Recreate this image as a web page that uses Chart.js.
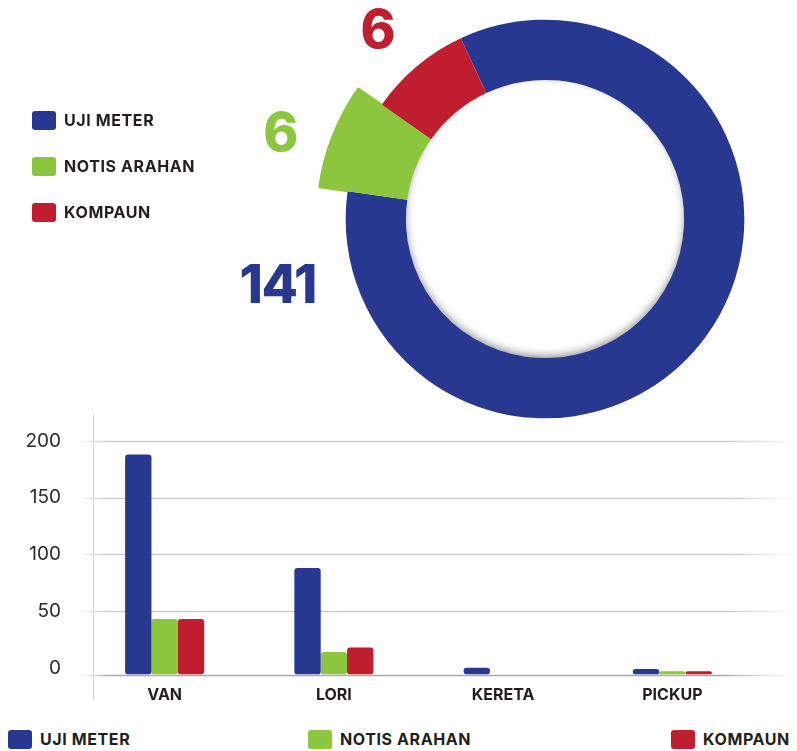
<!DOCTYPE html>
<html>
<head>
<meta charset="utf-8">
<script src="https://cdn.jsdelivr.net/npm/chart.js@4.4.1/dist/chart.umd.min.js"></script>
<style>
  body { margin: 0; width: 797px; height: 751px; overflow: hidden; background: #fff; position: relative; }
  #donutBox { position: absolute; left: 0; top: 0; width: 797px; height: 438px; }
  #barBox { position: absolute; left: 0; top: 400px; width: 797px; height: 305px; }
  .legend { position: absolute; display: flex; }
  #donutLegend { left: 32px; top: 111px; flex-direction: column; gap: 27px; }
  #barLegend { left: 8px; top: 730px; }
  #barLegend .item:nth-child(1) { width: 300px; }
  #barLegend .item:nth-child(2) { width: 363px; }
  .item { display: flex; align-items: center; font: 700 16px Inter, sans-serif; letter-spacing: 0.6px; line-height: 19px; color: #231f20; }
  .item .box { width: 24px; height: 19px; border-radius: 3px; margin-right: 8px; flex: none; }
</style>
</head>
<body>
<div id="donutBox"><canvas id="donut"></canvas></div>
<div id="donutLegend" class="legend"></div>
<div id="barBox"><canvas id="bars"></canvas></div>
<div id="barLegend" class="legend"></div>
<script>
const seriesNames = ["UJI METER", "NOTIS ARAHAN", "KOMPAUN"];
const seriesColors = ["#283890", "#8cc63f", "#bf1e2e"];

// numbers printed next to the ring
const donutTotals = [141, 6, 6];
// slice sizes as drawn in the picture (the ring is not proportional to the totals)
const donutArc = [303, 27, 30];

const barCategories = ["VAN", "LORI", "KERETA", "PICKUP"];
const ujiMeter = [188, 88, 0, -1];
const notisArahan = [43, 14, null, -3];
const kompaun = [43, 18, null, -3];
const yMin = -6;
const yMax = 200;
const yStep = 50;

const donutLabels = {
  id: "donutLabels",
  afterDraw(chart, args, opts) {
    const arc = chart.getDatasetMeta(1).data[0];
    const ctx = chart.ctx;
    ctx.save();
    ctx.font = opts.font;
    ctx.letterSpacing = opts.letterSpacing;
    ctx.textAlign = "center";
    ctx.textBaseline = "alphabetic";
    donutTotals.forEach((v, i) => {
      const spot = opts.spots[i];
      const a = spot.angle * Math.PI / 180;
      const px = arc.x + Math.sin(a) * spot.dist;
      const py = arc.y - Math.cos(a) * spot.dist;
      const m = ctx.measureText(String(v));
      ctx.fillStyle = seriesColors[i];
      ctx.fillText(String(v), px, py + (m.actualBoundingBoxAscent - m.actualBoundingBoxDescent) / 2);
    });
    ctx.restore();
  }
};

const holeShadow = {
  id: "holeShadow",
  afterDatasetsDraw(chart) {
    const arc = chart.getDatasetMeta(1).data[0];
    const ctx = chart.ctx;
    const r = arc.innerRadius;
    ctx.save();
    ctx.beginPath();
    ctx.arc(arc.x, arc.y, r, 0, Math.PI * 2);
    ctx.clip();
    ctx.beginPath();
    ctx.arc(arc.x, arc.y, r + 21, 0, Math.PI * 2);
    ctx.lineWidth = 40;
    ctx.strokeStyle = "#000";
    ctx.shadowColor = "rgba(0,0,0,0.45)";
    ctx.shadowBlur = 8;
    ctx.shadowOffsetY = -3;
    ctx.stroke();
    ctx.restore();
  }
};

const donut = new Chart(document.getElementById("donut"), {
  type: "doughnut",
  data: {
    labels: seriesNames,
    datasets: [
      {
        data: donutArc,
        backgroundColor: ["rgba(0,0,0,0)", seriesColors[1], "rgba(0,0,0,0)"],
        borderColor: ["rgba(0,0,0,0)", seriesColors[1], "rgba(0,0,0,0)"],
        borderWidth: [0, 2, 0],
        weight: 29,
      },
      {
        data: donutArc,
        backgroundColor: seriesColors,
        borderWidth: 0,
        weight: 61,
      },
    ],
  },
  options: {
    responsive: true,
    maintainAspectRatio: false,
    animation: false,
    events: [],
    rotation: -25,
    radius: 228,
    cutout: "61%",
    layout: { padding: { left: 293 } },
    plugins: {
      legend: { display: false },
      tooltip: { enabled: false },
      donutLabels: {
        font: "800 53px Inter, sans-serif",
        letterSpacing: "-1.5px",
        spots: [
          { angle: 256.4, dist: 275 },
          { angle: -71.8, dist: 279 },
          { angle: -41.3, dist: 254 },
        ],
      },
    },
  },
  plugins: [holeShadow, donutLabels],
});

const softGrid = {
  id: "softGrid",
  beforeDatasetsDraw(chart, args, o) {
    const { ctx, chartArea: a, scales: { y } } = chart;
    const x0 = a.left - o.extendLeft;
    const x1 = a.right + o.extendRight;
    const line = (py, color, w) => {
      const g = ctx.createLinearGradient(x0, 0, x1, 0);
      g.addColorStop(0, "rgba(200,200,200,0)");
      g.addColorStop(0.04, color);
      g.addColorStop(0.9, color);
      g.addColorStop(1, "rgba(200,200,200,0)");
      ctx.strokeStyle = g;
      ctx.lineWidth = w;
      ctx.beginPath();
      ctx.moveTo(x0, py);
      ctx.lineTo(x1, py);
      ctx.stroke();
    };
    ctx.save();
    y.ticks.filter(t => t.value > 0).forEach(t => line(Math.round(y.getPixelForValue(t.value)) + 0.5, o.gridColor, 1.5));
    line(Math.round(a.bottom) + 0.5, o.baseColor, 1.5);
    const rx = Math.round(a.left + o.ruleInset) + 0.5;
    ctx.strokeStyle = o.ruleColor;
    ctx.lineWidth = 1;
    ctx.beginPath();
    ctx.moveTo(rx, a.top - o.ruleAbove);
    ctx.lineTo(rx, a.bottom + o.ruleBelow);
    ctx.stroke();
    ctx.restore();
  }
};

const barSet = (label, data, color) => ({
  label,
  data,
  backgroundColor: color,
  borderWidth: 0,
  borderRadius: 3,
  borderSkipped: false,
  base: yMin,
  categoryPercentage: 0.467,
  barPercentage: 1,
});

const bars = new Chart(document.getElementById("bars"), {
  type: "bar",
  data: {
    labels: barCategories,
    datasets: [
      barSet(seriesNames[0], ujiMeter, seriesColors[0]),
      barSet(seriesNames[1], notisArahan, seriesColors[1]),
      barSet(seriesNames[2], kompaun, seriesColors[2]),
    ],
  },
  options: {
    responsive: true,
    maintainAspectRatio: false,
    animation: false,
    events: [],
    layout: { padding: { top: 41, right: 40, left: 0, bottom: 0 } },
    scales: {
      x: {
        grid: { display: false, drawTicks: false },
        border: { display: false },
        ticks: { color: "#231f20", font: { family: "Inter", size: 16, weight: "700" }, padding: 11, maxRotation: 0 },
        afterFit: (s) => { s.height = 30; },
      },
      y: {
        min: yMin,
        max: yMax,
        grid: { display: false, drawTicks: false },
        border: { display: false },
        ticks: { stepSize: yStep, includeBounds: false, color: "#2b2b2b", font: { family: "Inter", size: 19 }, padding: 19 },
        afterFit: (s) => { s.width = 80; },
      },
    },
    plugins: {
      legend: { display: false },
      tooltip: { enabled: false },
      softGrid: {
        extendLeft: 2,
        extendRight: 40,
        gridColor: "#cdcdcd",
        baseColor: "#a9a9a9",
        ruleColor: "#d4d4d4",
        ruleInset: 13,
        ruleAbove: 27,
        ruleBelow: 25,
      },
    },
  },
  plugins: [softGrid],
});

function fillLegend(el, items) {
  items.forEach((it) => {
    const row = document.createElement("div");
    row.className = "item";
    const box = document.createElement("span");
    box.className = "box";
    box.style.background = it.color;
    const txt = document.createElement("span");
    txt.textContent = it.text;
    row.append(box, txt);
    el.append(row);
  });
}

fillLegend(
  document.getElementById("donutLegend"),
  donut.data.labels.map((t, i) => ({ text: t, color: donut.data.datasets[1].backgroundColor[i] }))
);
fillLegend(
  document.getElementById("barLegend"),
  Chart.defaults.plugins.legend.labels.generateLabels(bars).map((l) => ({ text: l.text, color: l.fillStyle }))
);
</script>
</body>
</html>
